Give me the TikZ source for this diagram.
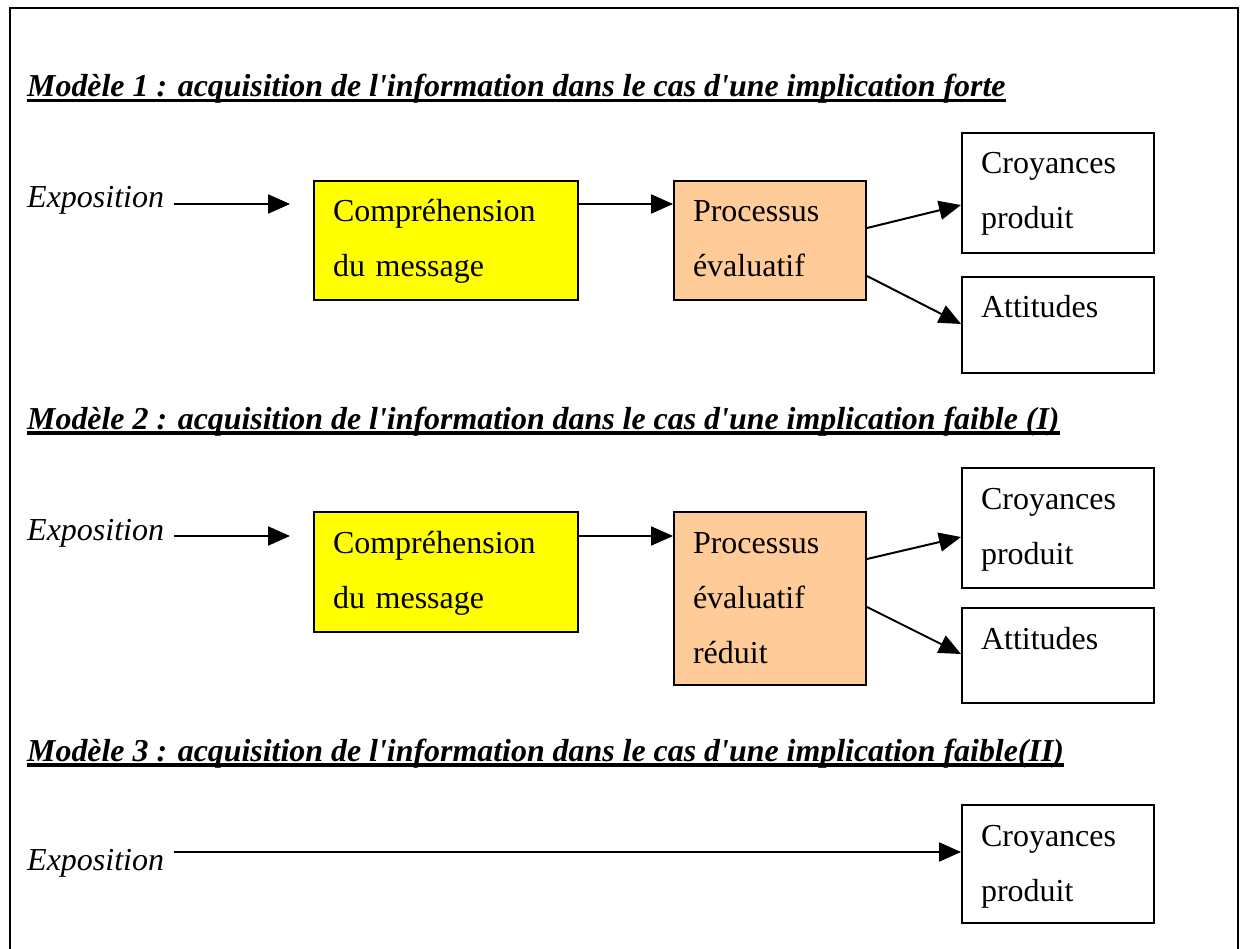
\documentclass[tikz,border=0pt]{standalone}
\usepackage{fontspec}
\setmainfont{Liberation Serif}[Ligatures=TeXOff]
\usetikzlibrary{positioning, arrows.meta}
\definecolor{peach}{RGB}{255,204,153}
\definecolor{brightyellow}{RGB}{255,255,0}
\newcommand{\ultitle}[1]{\setbox0\hbox{#1}\rlap{\rule[-5.5pt]{\wd0}{3.5pt}}\box0}

\begin{document}
\begin{tikzpicture}[
        x=1pt, y=-1pt,
        >={Triangle[length=22pt,width=19pt]},
        % Styles
        box/.style={% For the text frames
            rectangle,
            draw,
            line width=2pt,
            anchor=north west,
            align=left,
            inner xsep=19pt,
            inner ysep=0pt,
            text height=41pt,
            font=\fontsize{32}{55}\selectfont,
            },
        comp/.style={% Yellow box
            box, fill=brightyellow, text width=226pt,
            },
        proc/.style={% Orange box
            box, fill=peach, text width=154pt,
            },
        result/.style={% White boxes on the right
            box, text width=154pt,
            },
        title/.style={% Underlined headings
            anchor=base west, inner sep=0pt,
            font=\fontsize{31.9}{38}\selectfont\bfseries\itshape,
            },
        expo/.style={% Input text
            anchor=base west, inner sep=0pt,
            font=\fontsize{32}{38}\selectfont\itshape,
            },
        arrow/.style={% Connectors
            ->, line width=2pt,
            },
        ]
    \useasboundingbox (0,0) rectangle (1247,949);

    % Frame
        \draw [line width=2pt] (10,949) -- (10,8) -- (1238,8) -- (1238,949);

    % Headings
        \node [title] (titre1) at (27,97) {\ultitle{Modèle 1 : acquisition de l'information dans le cas d'une implication forte}};
        \node [title] (titre2) at (27,429) {\ultitle{Modèle 2 : acquisition de l'information dans le cas d'une implication faible (I)}};
        \node [title] (titre3) at (27,761) {\ultitle{Modèle 3 : acquisition de l'information dans le cas d'une implication faible(II)}};

    % Model 1
        \node [expo] (expo1) at (27,208) {Exposition};
        \node [comp, text depth=78pt] (comp1) at (313,180) {Compréhension\\du message};
        \node [proc, text depth=78pt] (proc1) at (673,180) {Processus\\évaluatif};
        \node [result, text depth=79pt] (croy1) at (961,132) {Croyances\\produit};
        \node [result, text depth=55pt] (att1) at (961,276) {Attitudes};

    % Model 2
        \node [expo] (expo2) at (27,540) {Exposition};
        \node [comp, text depth=79pt] (comp2) at (313,511) {Compréhension\\du message};
        \node [proc, text depth=132pt] (proc2) at (673,511) {Processus\\évaluatif\\réduit};
        \node [result, text depth=79pt] (croy2) at (961,467) {Croyances\\produit};
        \node [result, text depth=54pt] (att2) at (961,607) {Attitudes};

    % Model 3
        \node [expo] (expo3) at (27,870) {Exposition};
        \node [result, text depth=77pt] (croy3) at (961,804) {Croyances\\produit};

    % Connectors
        \draw [arrow, shorten <=10pt, shorten >=23pt] ([yshift=4pt]expo1.base east) -- ([yshift=4pt]expo1.base east -| comp1.west);
        \draw [arrow] ([yshift=4pt]comp1.east |- expo1.base) -- ([yshift=4pt]proc1.west |- expo1.base);
        \draw [arrow] ([yshift=-48pt]proc1.north east) -- ([yshift=-73pt]croy1.north west);
        \draw [arrow] ([yshift=-96pt]proc1.north east) -- ([yshift=-48pt]att1.north west);

        \draw [arrow, shorten <=10pt, shorten >=23pt] ([yshift=4pt]expo2.base east) -- ([yshift=4pt]expo2.base east -| comp2.west);
        \draw [arrow] ([yshift=4pt]comp2.east |- expo2.base) -- ([yshift=4pt]proc2.west |- expo2.base);
        \draw [arrow] ([yshift=-48pt]proc2.north east) -- ([yshift=-70pt]croy2.north west);
        \draw [arrow] ([yshift=-96pt]proc2.north east) -- ([yshift=-47pt]att2.north west);

        \draw [arrow, shorten <=10pt] ([yshift=18pt]expo3.base east) -- ([yshift=18pt]expo3.base east -| croy3.west);

\end{tikzpicture}
\end{document}
